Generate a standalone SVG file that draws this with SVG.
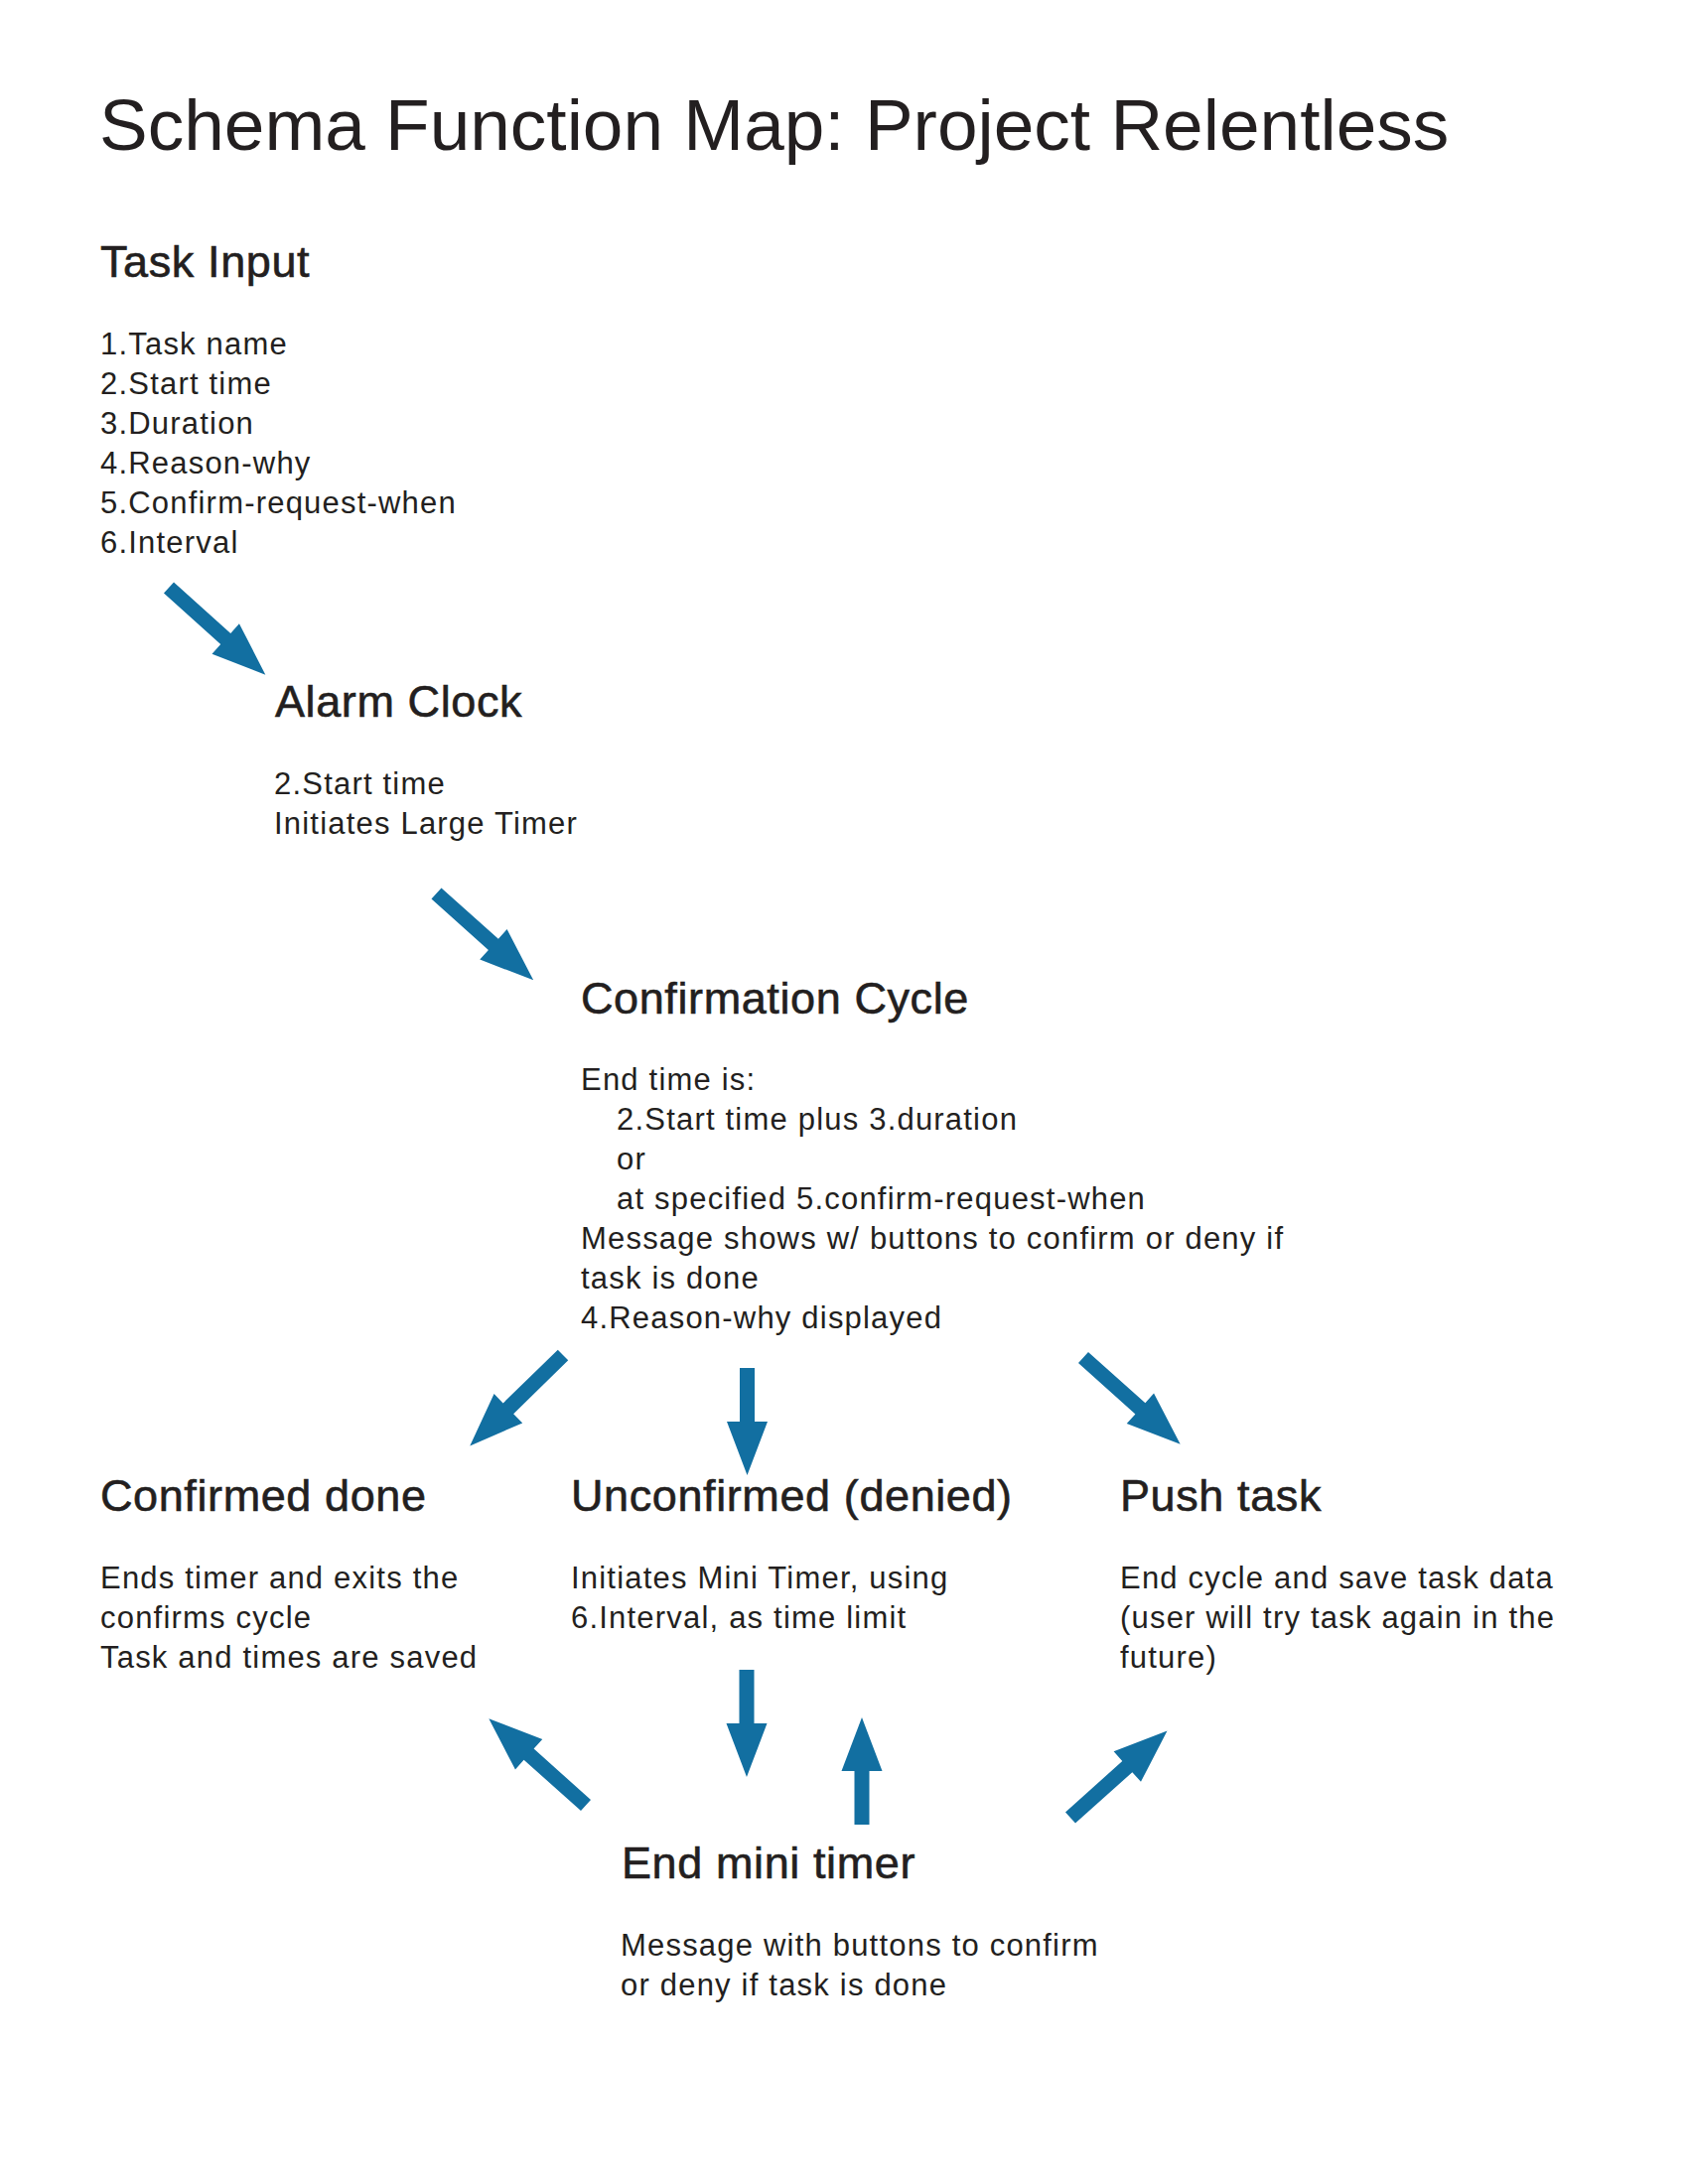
<svg xmlns="http://www.w3.org/2000/svg" width="1700" height="2200" viewBox="0 0 1700 2200">
<style>
text { font-family: "Liberation Sans", Arial, Helvetica, sans-serif; fill: #231f20; }
.title { font-size: 73px; }
.head { font-size: 45px; letter-spacing: 0.6px; stroke: #231f20; stroke-width: 0.6px; }
.body { font-size: 31px; letter-spacing: 1.2px; }
.arrow { fill: #126fa1; }
</style>
<defs>
<path id="arrD" d="M0,-7.5 L77,-7.5 L77,-20.5 L131,0 L77,20.5 L77,7.5 L0,7.5 Z"/>
<path id="arrV" d="M0,-7.5 L54,-7.5 L54,-20.5 L108,0 L54,20.5 L54,7.5 L0,7.5 Z"/>
</defs>
<rect width="1700" height="2200" fill="#ffffff"/>
<text class="title" x="100" y="151">Schema Function Map: Project Relentless</text>

<g id="task-input">
<text class="head" x="101" y="279">Task Input</text>
<text class="body" x="101" y="357">1.Task name</text>
<text class="body" x="101" y="397">2.Start time</text>
<text class="body" x="101" y="437">3.Duration</text>
<text class="body" x="101" y="477">4.Reason-why</text>
<text class="body" x="101" y="517">5.Confirm-request-when</text>
<text class="body" x="101" y="557">6.Interval</text>
</g>

<g id="alarm-clock">
<text class="head" x="277" y="722">Alarm Clock</text>
<text class="body" x="276" y="800">2.Start time</text>
<text class="body" x="276" y="840">Initiates Large Timer</text>
</g>

<g id="confirmation-cycle">
<text class="head" x="585" y="1021">Confirmation Cycle</text>
<text class="body" x="585" y="1098">End time is:</text>
<text class="body" x="621" y="1138">2.Start time plus 3.duration</text>
<text class="body" x="621" y="1178">or</text>
<text class="body" x="621" y="1218">at specified 5.confirm-request-when</text>
<text class="body" x="585" y="1258">Message shows w/ buttons to confirm or deny if</text>
<text class="body" x="585" y="1298">task is done</text>
<text class="body" x="585" y="1338">4.Reason-why displayed</text>
</g>

<g id="confirmed-done">
<text class="head" x="101" y="1522">Confirmed done</text>
<text class="body" x="101" y="1600">Ends timer and exits the</text>
<text class="body" x="101" y="1640">confirms cycle</text>
<text class="body" x="101" y="1680">Task and times are saved</text>
</g>

<g id="unconfirmed">
<text class="head" x="575" y="1522">Unconfirmed (denied)</text>
<text class="body" x="575" y="1600">Initiates Mini Timer, using</text>
<text class="body" x="575" y="1640">6.Interval, as time limit</text>
</g>

<g id="push-task">
<text class="head" x="1128" y="1522">Push task</text>
<text class="body" x="1128" y="1600">End cycle and save task data</text>
<text class="body" x="1128" y="1640">(user will try task again in the</text>
<text class="body" x="1128" y="1680">future)</text>
</g>

<g id="end-mini-timer">
<text class="head" x="626" y="1892">End mini timer</text>
<text class="body" x="625" y="1970">Message with buttons to confirm</text>
<text class="body" x="625" y="2010">or deny if task is done</text>
</g>

<g id="connectors" class="arrow">
<use href="#arrD" transform="translate(170,592) rotate(42)"/>
<use href="#arrD" transform="translate(439.5,900) rotate(41.8)"/>
<use href="#arrD" transform="translate(567,1365) rotate(135.7)"/>
<use href="#arrV" transform="translate(752.5,1378) rotate(90)"/>
<use href="#arrD" transform="translate(1091,1367.5) rotate(41.8)"/>
<use href="#arrV" transform="translate(752,1682) rotate(90)"/>
<use href="#arrV" transform="translate(868,1838) rotate(-90)"/>
<use href="#arrD" transform="translate(590,1818.5) rotate(-138.2)"/>
<use href="#arrD" transform="translate(1078,1831) rotate(-41.9)"/>
</g>
</svg>
